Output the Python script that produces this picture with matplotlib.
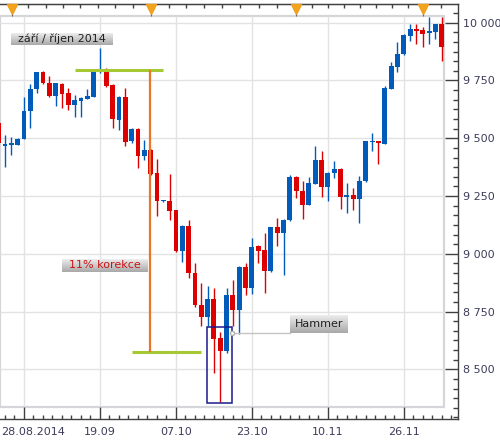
import matplotlib.pyplot as plt
import matplotlib.transforms as mtransforms
from matplotlib.colors import LinearSegmentedColormap
import numpy as np

# DAX daily candles, Aug - Dec 2014
opens = [9567, 9466, 9469, 9472, 9497, 9616, 9712, 9787, 9738, 9685,
         9735, 9695, 9643, 9663, 9671, 9680, 9786, 9791, 9731, 9580,
         9680, 9486, 9540, 9424, 9450, 9350, 9228, 9230, 9188, 9011,
         9122, 8918, 8777, 8726, 8803, 8634, 8579, 8820, 8756, 8942,
         8850, 9033, 9018, 8925, 9115, 9088, 9145, 9331, 9273, 9213,
         9302, 9404, 9288, 9350, 9367, 9246, 9256, 9237, 9313, 9484,
         9486, 9476, 9714, 9810, 9864, 9944, 9973, 9968, 9954, 9961,
         9994]
highs = [9575, 9514, 9505, 9500, 9680, 9735, 9787, 9790, 9770, 9740,
         9738, 9717, 9688, 9680, 9712, 9790, 9889, 9803, 9735, 9683,
         9717, 9545, 9545, 9493, 9455, 9410, 9231, 9347, 9190, 9125,
         9145, 8958, 8872, 8860, 8853, 8663, 8853, 8885, 8949, 8961,
         9069, 9040, 9091, 9118, 9155, 9152, 9342, 9335, 9317, 9331,
         9467, 9443, 9352, 9400, 9370, 9307, 9285, 9335, 9490, 9522,
         9490, 9728, 9832, 9918, 9950, 9993, 9993, 9981, 10026, 9996,
         10026]
lows = [9475, 9375, 9429, 9470, 9495, 9544, 9695, 9735, 9680, 9640,
        9629, 9623, 9594, 9592, 9668, 9678, 9782, 9722, 9544, 9537,
        9465, 9479, 9371, 9404, 9340, 9165, 9226, 9148, 9008, 8964,
        8896, 8770, 8687, 8687, 8486, 8357, 8569, 8687, 8651, 8820,
        8824, 8961, 8832, 8920, 9033, 8908, 9140, 9242, 9152, 9210,
        9300, 9246, 9227, 9328, 9194, 9177, 9188, 9134, 9310, 9443,
        9389, 9474, 9712, 9788, 9862, 9922, 9907, 9896, 9907, 9930,
        9836]
closes = [9481, 9474, 9479, 9497, 9619, 9712, 9787, 9737, 9685, 9738,
          9692, 9643, 9666, 9675, 9684, 9787, 9789, 9727, 9583, 9680,
          9482, 9540, 9424, 9450, 9345, 9227, 9230, 9184, 9011, 9122,
          8918, 8777, 8726, 8803, 8633, 8579, 8820, 8756, 8942, 8850,
          9031, 9014, 8925, 9115, 9088, 9148, 9331, 9270, 9213, 9305,
          9404, 9288, 9350, 9367, 9246, 9256, 9237, 9313, 9486, 9487,
          9479, 9717, 9813, 9865, 9947, 9973, 9965, 9952, 9965, 9994,
          9896]

date_ticks = [4, 16, 28, 40, 52, 64]
date_labels = ["28.08.2014", "19.09", "07.10", "23.10", "10.11", "26.11"]
price_ticks = [8500, 8750, 9000, 9250, 9500, 9750, 10000]
top_ticks = [2.06, 4.68, 7.43, 10.21, 12.90, 15.64, 18.38, 21.27, 24.02,
             26.91, 29.64, 32.44, 35.28, 38.17, 41.17, 44.02, 46.92, 49.45,
             52.07, 54.60, 57.08, 59.61, 62.09, 64.71, 67.08, 69.83]
event_marks = [2.06, 24.02, 46.92, 67.08]

peak_level = 9797
trough_level = 8575

BLUE = '#005bbb'
RED = '#dd0000'
GRID = '#e2e2e2'
AXIS = '#404040'
LABEL = '#3c3c5a'

XLIM = (0.21, 72.56)
YLIM = (8285, 10081)

# panel (white plotting area inside the axis frame)
px0, px1 = 0.21, 70.35
py0, py1 = 8337, 10029

fig = plt.figure(figsize=(5, 4.41), dpi=100)
ax = fig.add_axes([0, 22 / 441, 458 / 500, 415 / 441])

ax.add_patch(plt.Rectangle((px0, py0), px1 - px0, py1 - py0, facecolor='white',
                           edgecolor='#d4d6da', lw=1.6, zorder=0))
ax.hlines(price_ticks, px0, px1, color=GRID, lw=1, zorder=1)
ax.vlines(date_ticks, py0, py1, color=GRID, lw=1, zorder=1)

# candles
x = np.arange(len(opens))
o = np.array(opens)
c = np.array(closes)
colors = np.where(c >= o, BLUE, RED)
ax.vlines(x, lows, highs, colors=colors, lw=1, zorder=3)
ax.bar(x, np.maximum(np.abs(c - o), 5), bottom=np.minimum(o, c), width=0.76,
       color=colors, zorder=4)

# correction markup
ax.hlines(peak_level, 12.06, 25.9, color='#a6c832', lw=2.2, zorder=5)
ax.hlines(trough_level, 21.0, 31.9, color='#a6c832', lw=2.2, zorder=5)
ax.vlines(23.85, trough_level, peak_level, color='#e8762b', lw=1.6, zorder=5)

# hammer box + connector
ax.add_patch(plt.Rectangle((32.96, 8353), 36.9 - 32.96, 8682 - 8353, fill=False,
                           edgecolor='#1a1a8c', lw=1.1, zorder=6))
ax.plot([36.9, 46.02], [8658, 8658], color='#c4c4c4', lw=1, zorder=5)
ax.plot([36.9], [8658], marker='o', ms=3, mfc='white', mec='#b0b0b0', zorder=6)

grad = LinearSegmentedColormap.from_list('g', ['#ececec', '#a9a9a9'])


def label_box(x0, x1, y0, y1, text, color):
    ax.imshow(np.linspace(0, 1, 32).reshape(-1, 1), cmap=grad, aspect='auto',
              extent=(x0, x1, y0, y1), origin='upper', zorder=7)
    ax.text((x0 + x1) / 2, (y0 + y1) / 2, text, color=color, fontsize=8,
            ha='center', va='center', zorder=8)


label_box(1.95, 18.06, 9903.5, 9955.4, "září / říjen 2014", '#202020')
label_box(9.96, 23.54, 8922.4, 8977.4, "11% korekce", '#cc1111')
label_box(46.02, 55.08, 8658.4, 8735, "Hammer", '#202020')

# axes frame
ax.spines['left'].set_visible(False)
for s in ['right', 'bottom', 'top']:
    ax.spines[s].set_color(AXIS)
    ax.spines[s].set_linewidth(1)

ax.yaxis.tick_right()
ax.set_yticks(price_ticks, [f"{v:,}".replace(",", " ") for v in price_ticks])
minor_y = np.arange(8250, 10100, 250 / 6)
ax.set_yticks(minor_y[(minor_y > YLIM[0]) & (minor_y < YLIM[1])], minor=True)
ax.tick_params(axis='y', which='major', direction='in', length=9.4, width=1,
               color=AXIS, labelcolor=LABEL, labelsize=8, pad=3.5)
ax.tick_params(axis='y', which='minor', direction='in', length=3.6, width=1,
               color=AXIS)

ax.set_xticks(date_ticks, [""] + date_labels[1:])
ax.set_xticks(np.arange(1.0, 72.5, 1.5), minor=True)
ax.tick_params(axis='x', which='major', direction='in', length=8.6, width=1,
               color=AXIS, labelcolor=LABEL, labelsize=8, pad=6)
ax.tick_params(axis='x', which='minor', direction='in', length=3, width=1,
               color=AXIS)
ax.annotate(date_labels[0], xy=(0, 0), xycoords='axes fraction',
            xytext=(0.5, -6), textcoords='offset points', ha='left', va='top',
            fontsize=8, color=LABEL)

top = ax.secondary_xaxis('top')
top.set_xticks(top_ticks, [])
top.tick_params(direction='in', length=3, width=1, color=AXIS)
top.spines['top'].set_color(AXIS)

trans = mtransforms.blended_transform_factory(ax.transData, ax.transAxes)
ax.vlines(event_marks, 0.972, 0.985, transform=trans, color='#666666', lw=0.8,
          zorder=9, clip_on=False)
ax.plot(event_marks, [0.989] * len(event_marks), transform=trans, ls='none',
        marker='v', ms=6.5, color='#f5a31a', mec='#f0a020', zorder=10,
        clip_on=False)

ax.set_xlim(*XLIM)
ax.set_ylim(*YLIM)

fig.savefig('out.png', dpi=100)
